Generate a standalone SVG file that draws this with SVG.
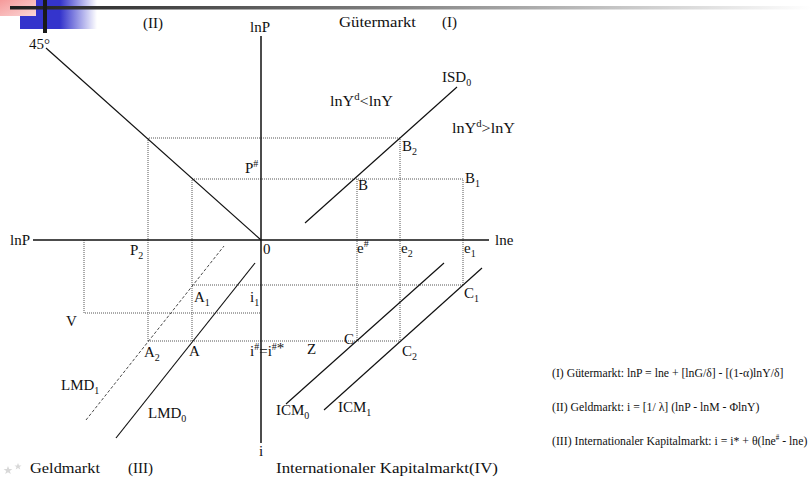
<svg xmlns="http://www.w3.org/2000/svg" width="811" height="478" viewBox="0 0 811 478">
<defs>
<linearGradient id="bar" x1="0" y1="0" x2="1" y2="0">
<stop offset="0" stop-color="#1e1e1e"/>
<stop offset="0.45" stop-color="#7a7a7a"/>
<stop offset="0.8" stop-color="#cfcfcf"/>
<stop offset="1" stop-color="#ffffff"/>
</linearGradient>
<linearGradient id="blue" x1="0" y1="0" x2="1" y2="0">
<stop offset="0" stop-color="#3434cc"/>
<stop offset="0.52" stop-color="#3434cc"/>
<stop offset="1" stop-color="#3434cc" stop-opacity="0"/>
</linearGradient>
<linearGradient id="pink" x1="0" y1="0" x2="1" y2="1">
<stop offset="0" stop-color="#f59a9a"/>
<stop offset="1" stop-color="#fbd6d6"/>
</linearGradient>
<style>
text{font-family:"Liberation Serif","Times New Roman",serif;font-size:15px;fill:#111}
.eq{font-size:13.5px}
.sb{font-size:10px}
.ax{stroke:#111;stroke-width:1.5;fill:none}
.cv{stroke:#111;stroke-width:1.2;fill:none}
.dash{stroke:#333;stroke-width:0.9;fill:none;stroke-dasharray:3,2}
.dot{stroke:#555;stroke-width:1;fill:none;stroke-dasharray:1,1}
</style>
</defs>
<rect width="811" height="478" fill="#ffffff"/>
<g id="decoration">
<rect x="20" y="0" width="77" height="29" fill="url(#blue)"/>
<rect x="0" y="0" width="36" height="16" fill="url(#pink)"/>
<rect x="10" y="6" width="801" height="3.5" fill="url(#bar)"/>
<rect x="43" y="0" width="4" height="33" fill="#1a1a1a"/>
<polygon points="8,466 9.2,469 12.4,469 9.8,471 10.8,474 8,472.2 5.2,474 6.2,471 3.6,469 6.8,469" fill="#d8d8d8"/>
<polygon points="18,463 19,465.5 21.6,465.5 19.5,467.1 20.3,469.6 18,468.1 15.7,469.6 16.5,467.1 14.4,465.5 17,465.5" fill="#d8d8d8"/>
</g>
<g id="connectors">
<g id="guides">
<polyline class="dot" points="148,341 148,138 400,138 400,341"/>
<polyline class="dot" points="192,341 192,179 463,179 463,285"/>
<line class="dot" x1="357" y1="179" x2="357" y2="341"/>
<line class="dot" x1="192" y1="285" x2="463" y2="285"/>
<polyline class="dot" points="84,240 84,313 261,313"/>
<line class="dot" x1="148" y1="341" x2="400" y2="341"/>
</g>
<g id="axes">
<line class="ax" x1="261" y1="36" x2="261" y2="443"/>
<line class="ax" x1="33" y1="240" x2="489" y2="240"/>
</g>
<g id="curves">
<line class="cv" x1="46" y1="48" x2="261" y2="240"/>
<line class="cv" x1="305" y1="223" x2="457" y2="87"/>
<line class="cv" x1="116" y1="438" x2="255" y2="263"/>
<line class="dash" x1="86" y1="420" x2="224" y2="246"/>
<line class="cv" x1="286" y1="404" x2="444" y2="263"/>
<line class="cv" x1="324" y1="410" x2="482" y2="268"/>
</g>
</g>
<g id="labels">
<text x="143" y="28">(II)</text>
<text x="250" y="32">lnP</text>
<text x="339" y="27" textLength="77" lengthAdjust="spacingAndGlyphs">Gütermarkt</text>
<text x="442" y="27">(I)</text>
<text x="29" y="49">45°</text>
<text x="442" y="82">ISD<tspan class="sb" dy="4">0</tspan></text>
<text x="330" y="106" textLength="63" lengthAdjust="spacingAndGlyphs">lnY<tspan class="sb" dy="-6">d</tspan><tspan dy="6">&lt;lnY</tspan></text>
<text x="452" y="133" textLength="63" lengthAdjust="spacingAndGlyphs">lnY<tspan class="sb" dy="-6">d</tspan><tspan dy="6">&gt;lnY</tspan></text>
<text x="402" y="151">B<tspan class="sb" dy="4">2</tspan></text>
<text x="465" y="183">B<tspan class="sb" dy="4">1</tspan></text>
<text x="358" y="190">B</text>
<text x="245" y="173">P<tspan class="sb" dy="-6">#</tspan></text>
<text x="10" y="245">lnP</text>
<text x="130" y="255">P<tspan class="sb" dy="4">2</tspan></text>
<text x="263" y="254">0</text>
<text x="357" y="253">e<tspan class="sb" dy="-6">#</tspan></text>
<text x="401" y="253">e<tspan class="sb" dy="4">2</tspan></text>
<text x="464" y="253">e<tspan class="sb" dy="4">1</tspan></text>
<text x="495" y="245">lne</text>
<text x="194" y="302">A<tspan class="sb" dy="4">1</tspan></text>
<text x="250" y="302">i<tspan class="sb" dy="4">1</tspan></text>
<text x="66" y="326">V</text>
<text x="464" y="298">C<tspan class="sb" dy="4">1</tspan></text>
<text x="344" y="344">C</text>
<text x="144" y="357">A<tspan class="sb" dy="4">2</tspan></text>
<text x="189" y="356">A</text>
<text x="250" y="356">i<tspan class="sb" dy="-6">#</tspan><tspan dy="6">=i</tspan><tspan class="sb" dy="-6">#</tspan><tspan dy="3">*</tspan></text>
<text x="307" y="354">Z</text>
<text x="402" y="356">C<tspan class="sb" dy="4">2</tspan></text>
<text x="61" y="390">LMD<tspan class="sb" dy="4">1</tspan></text>
<text x="148" y="418">LMD<tspan class="sb" dy="4">0</tspan></text>
<text x="276" y="415">ICM<tspan class="sb" dy="4">0</tspan></text>
<text x="338" y="412">ICM<tspan class="sb" dy="4">1</tspan></text>
<text x="259" y="456">i</text>
<text x="30" y="473" textLength="70" lengthAdjust="spacingAndGlyphs">Geldmarkt</text>
<text x="128" y="473">(III)</text>
<text x="276" y="473" textLength="222" lengthAdjust="spacingAndGlyphs">Internationaler Kapitalmarkt(IV)</text>
</g>
<g id="equations">
<g transform="translate(552,377) scale(0.87,1)"><text class="eq" x="0" y="0">(I) Gütermarkt: lnP = lne + [lnG/δ] - [(1-α)lnY/δ]</text></g>
<g transform="translate(552,411) scale(0.87,1)"><text class="eq" x="0" y="0">(II) Geldmarkt: i = [1/ λ] (lnP - lnM - ΦlnY)</text></g>
<g transform="translate(552,445) scale(0.87,1)"><text class="eq" x="0" y="0">(III) Internationaler Kapitalmarkt: i = i* + θ(lne<tspan style="font-size:8px" dy="-5">#</tspan><tspan dy="5"> - lne)</tspan></text></g>
</g>
</svg>
